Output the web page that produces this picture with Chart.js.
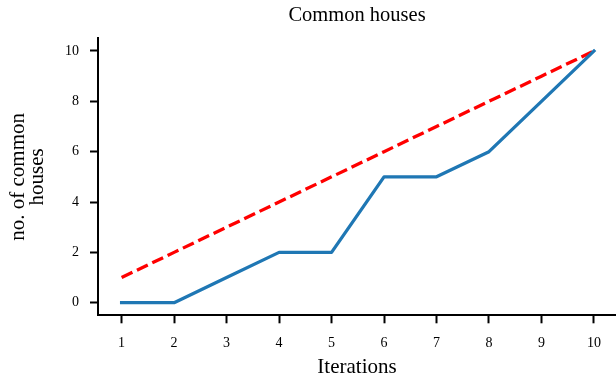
<!DOCTYPE html>
<html>
<head>
<meta charset="utf-8">
<script src="https://cdn.jsdelivr.net/npm/chart.js@4/dist/chart.umd.min.js"></script>
<style>
  html, body { margin: 0; padding: 0; background: #fff; }
  canvas { display: block; }
</style>
</head>
<body>
<canvas id="c" width="616" height="381"></canvas>
<script>
// Iteration numbers on the x axis
const iterations = [1, 2, 3, 4, 5, 6, 7, 8, 9, 10];
// Number of common houses found at each iteration
const commonHouses = [0, 0, 1, 2, 2, 5, 5, 6, 8, 10];
// Reference diagonal (y = x)
const diagonal = [1, 2, 3, 4, 5, 6, 7, 8, 9, 10];
// Tick values shown on the y axis
const yTicks = [0, 2, 4, 6, 8, 10];

const serif = "'Liberation Serif', 'Times New Roman', serif";

const toPoints = (ys) => iterations.map((x, i) => ({ x: x, y: ys[i] }));

new Chart(document.getElementById('c'), {
  type: 'line',
  data: {
    datasets: [
      {
        data: toPoints(commonHouses),
        borderColor: '#1f77b4',
        borderWidth: 3.3,
        borderCapStyle: 'square',
        borderJoinStyle: 'round',
        pointRadius: 0,
        tension: 0,
        fill: false,
        order: 0
      },
      {
        data: toPoints(diagonal),
        borderColor: '#ff0000',
        borderWidth: 3.3,
        borderDash: [12, 5],
        borderCapStyle: 'butt',
        pointRadius: 0,
        tension: 0,
        fill: false,
        order: 1
      }
    ]
  },
  options: {
    responsive: false,
    animation: false,
    devicePixelRatio: 1,
    layout: { padding: 0 },
    plugins: {
      legend: { display: false },
      tooltip: { enabled: false },
      title: {
        display: true,
        text: 'Common houses',
        fullSize: false,
        color: '#000',
        font: { family: serif, size: 20.5, weight: 'normal', lineHeight: 1.2 },
        padding: { top: 3.5, bottom: 10.3 }
      }
    },
    scales: {
      x: {
        type: 'linear',
        min: 0.55,
        max: 10.42,
        afterBuildTicks: (s) => { s.ticks = iterations.map(v => ({ value: v })); },
        afterFit: (s) => { s.height = 65.7; },
        ticks: {
          color: '#000',
          padding: 11.5,
          maxRotation: 0,
          font: { family: serif, size: 14 },
          callback: (v) => String(v)
        },
        grid: {
          display: true,
          drawOnChartArea: false,
          drawTicks: true,
          tickLength: 8,
          tickWidth: 2,
          tickColor: '#000'
        },
        border: { display: true, color: '#000', width: 2 },
        title: {
          display: true,
          text: 'Iterations',
          color: '#000',
          font: { family: serif, size: 21, lineHeight: 1.2 },
          padding: { top: 0, bottom: 0.5 }
        }
      },
      y: {
        type: 'linear',
        min: -0.5,
        max: 10.5,
        afterBuildTicks: (s) => { s.ticks = yTicks.map(v => ({ value: v })); },
        afterFit: (s) => { s.width = 98; },
        ticks: {
          color: '#000',
          padding: 11,
          font: { family: serif, size: 14 },
          callback: (v) => String(v)
        },
        grid: {
          display: true,
          drawOnChartArea: false,
          drawTicks: true,
          tickLength: 8,
          tickWidth: 2,
          tickColor: '#000'
        },
        border: { display: true, color: '#000', width: 2 },
        title: {
          display: true,
          text: ['no. of common', 'houses'],
          color: '#000',
          font: { family: serif, size: 21, lineHeight: 0.9 },
          padding: { top: 9.5, bottom: 0 }
        }
      }
    }
  }
});
</script>
</body>
</html>
